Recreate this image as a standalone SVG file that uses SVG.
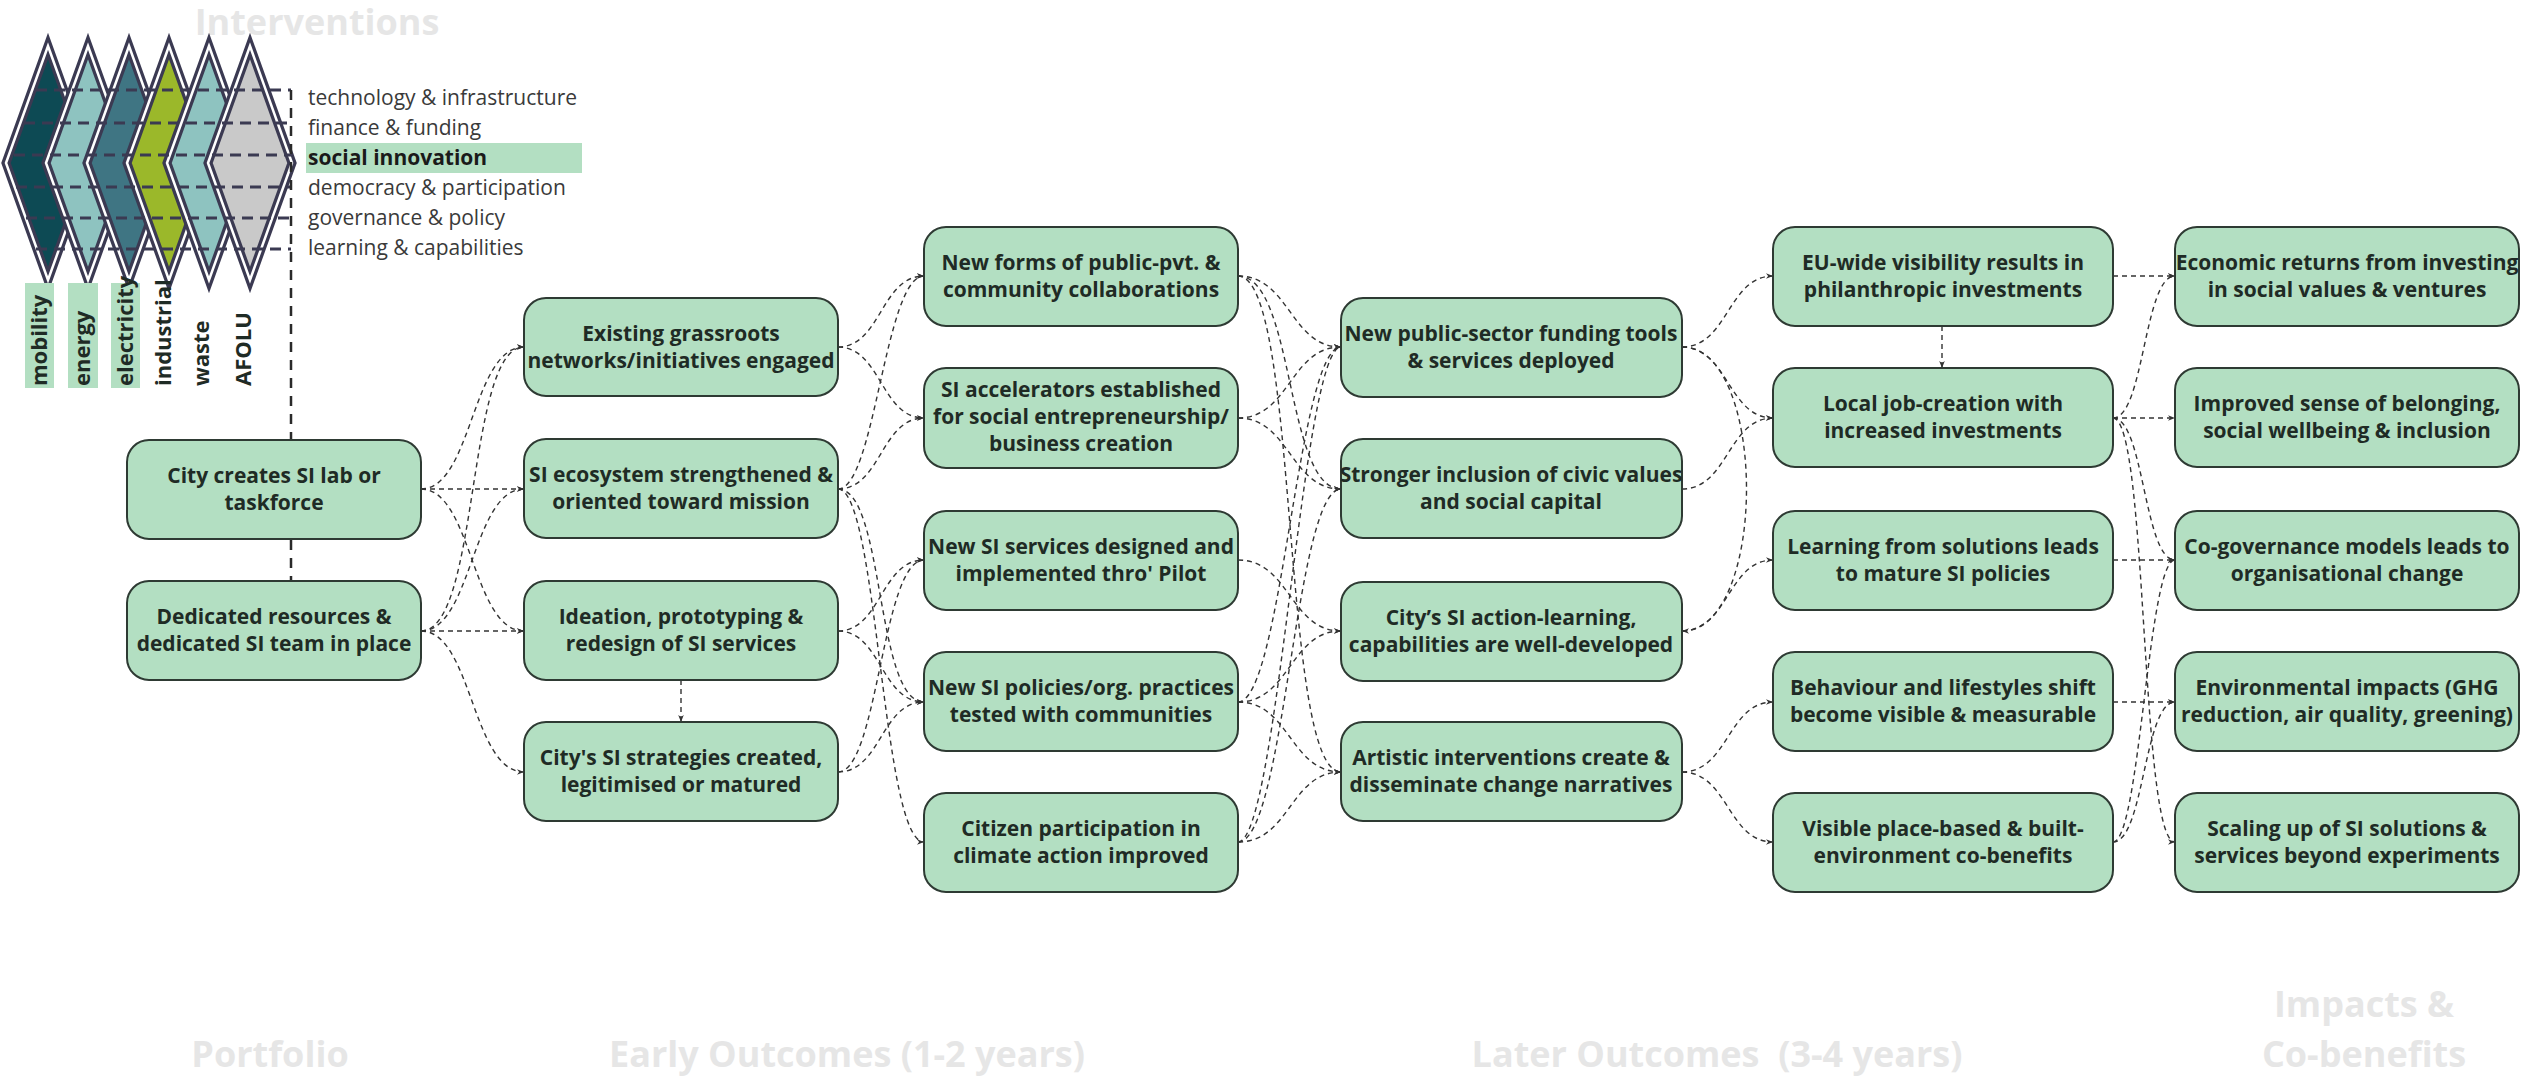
<svg xmlns="http://www.w3.org/2000/svg" width="2522" height="1076" viewBox="0 0 2522 1076">
<style>
.node rect{fill:#b3dfc2;stroke:#2e3a33;stroke-width:2}
.node text{font-family:"Open Sans","Liberation Sans",sans-serif;font-weight:700;font-size:21px;fill:#1f2b25;text-anchor:middle}
.edge{fill:none;stroke:#333;stroke-width:1.4;stroke-dasharray:5 4;marker-end:url(#arr)}
.title{font-family:"Open Sans","Liberation Sans",sans-serif;font-weight:700;font-size:36px;fill:#e6e6e6;text-anchor:middle}
.leg{font-family:"Open Sans","Liberation Sans",sans-serif;font-size:21px;fill:#3a3a3a}
.sect{font-family:"Open Sans","Liberation Sans",sans-serif;font-weight:700;font-size:22px;fill:#1f2b25}
.rh{stroke:#3b3a52;stroke-width:9;stroke-linejoin:miter}
.rhw{fill:none;stroke:#fff;stroke-width:2.5;stroke-linejoin:miter}
.dl{stroke:#3b3a52;stroke-width:3;stroke-dasharray:11 7;fill:none}
.vl{stroke:#2a2a2a;stroke-width:2.5;stroke-dasharray:10 8;fill:none}
</style>
<defs>
<marker id="arr" viewBox="0 0 10 10" refX="10" refY="5" markerWidth="7" markerHeight="7" markerUnits="userSpaceOnUse" orient="auto">
<path d="M0,1 L10,5 L0,9 L3,5 z" fill="#333"/>
</marker>
</defs>
<rect width="2522" height="1076" fill="#fff"/>

<g id="titles">
<text class="title" x="317" y="35">Interventions</text>
<text class="title" x="270" y="1067">Portfolio</text>
<text class="title" x="847" y="1067">Early Outcomes (1-2 years)</text>
<text class="title" x="1717" y="1067" style="white-space:pre">Later Outcomes  (3-4 years)</text>
<text class="title" x="2364" y="1017">Impacts &amp;</text>
<text class="title" x="2364" y="1067">Co-benefits</text>
</g>

<g id="legend">
<polygon class="rh" fill="#0d4a54" points="6,163 48,46 90,163 48,280"/>
<polygon class="rhw" points="6,163 48,46 90,163 48,280"/>
<polygon class="rh" fill="#8ec3c0" points="46,163 88,46 130,163 88,280"/>
<polygon class="rhw" points="46,163 88,46 130,163 88,280"/>
<polygon class="rh" fill="#3f7583" points="87,163 129,46 171,163 129,280"/>
<polygon class="rhw" points="87,163 129,46 171,163 129,280"/>
<polygon class="rh" fill="#9bb82a" points="127,163 169,46 211,163 169,280"/>
<polygon class="rhw" points="127,163 169,46 211,163 169,280"/>
<polygon class="rh" fill="#8ec3c0" points="167,163 209,46 251,163 209,280"/>
<polygon class="rhw" points="167,163 209,46 251,163 209,280"/>
<polygon class="rh" fill="#c9c9c9" points="208,163 250,46 292,163 250,280"/>
<polygon class="rhw" points="208,163 250,46 292,163 250,280"/>
<path class="dl" d="M36,90 H291 M24,123 H291 M14,155 H291 M16,187 H291 M26,218 H291 M36,249 H291"/>
<path class="vl" d="M291,90 V440 M291,540 V581"/>
<rect x="306" y="143" width="276" height="30" fill="#b3dfc2"/>
<text class="leg" x="308" y="105">technology &amp; infrastructure</text>
<text class="leg" x="308" y="135">finance &amp; funding</text>
<text class="leg" x="308" y="165" style="font-weight:700;fill:#1a1a1a">social innovation</text>
<text class="leg" x="308" y="195">democracy &amp; participation</text>
<text class="leg" x="308" y="225">governance &amp; policy</text>
<text class="leg" x="308" y="255">learning &amp; capabilities</text>
<rect x="25" y="283" width="29" height="105" fill="#b3dfc2"/>
<rect x="68" y="283" width="30" height="105" fill="#b3dfc2"/>
<rect x="111" y="283" width="29" height="105" fill="#b3dfc2"/>
<text class="sect" transform="translate(47,386) rotate(-90)">mobility</text>
<text class="sect" transform="translate(90,386) rotate(-90)">energy</text>
<text class="sect" transform="translate(133,386) rotate(-90)">electricity</text>
<text class="sect" transform="translate(171,386) rotate(-90)">industrial</text>
<text class="sect" transform="translate(209,386) rotate(-90)">waste</text>
<text class="sect" transform="translate(251,386) rotate(-90)">AFOLU</text>
</g>

<g id="connectors">
<path class="edge" d="M421,489 C472,489 472,347 524,347"/>
<path class="edge" d="M421,489 H524"/>
<path class="edge" d="M421,489 C472,489 472,631 524,631"/>
<path class="edge" d="M421,631 C480,631 466,347 524,347"/>
<path class="edge" d="M421,631 C472,631 472,489 524,489"/>
<path class="edge" d="M421,631 H524"/>
<path class="edge" d="M421,631 C472,631 472,772 524,772"/>
<path class="edge" d="M681,680 V722"/>

<path class="edge" d="M838,347 C881,347 881,276 924,276"/>
<path class="edge" d="M838,347 C881,347 881,418 924,418"/>
<path class="edge" d="M838,489 C875,489 885,276 924,276"/>
<path class="edge" d="M838,489 C881,489 881,418 924,418"/>
<path class="edge" d="M838,489 C885,489 875,702 924,702"/>
<path class="edge" d="M838,489 C878,489 882,842 924,842"/>
<path class="edge" d="M838,631 C881,631 881,560 924,560"/>
<path class="edge" d="M838,631 C881,631 881,702 924,702"/>
<path class="edge" d="M838,772 C878,772 882,560 924,560"/>
<path class="edge" d="M838,772 C881,772 881,702 924,702"/>

<path class="edge" d="M1238,276 C1290,276 1290,347 1341,347"/>
<path class="edge" d="M1238,276 C1295,276 1285,489 1341,489"/>
<path class="edge" d="M1238,276 C1300,276 1280,772 1341,772"/>
<path class="edge" d="M1238,418 C1290,418 1290,347 1341,347"/>
<path class="edge" d="M1238,418 C1290,418 1290,489 1341,489"/>
<path class="edge" d="M1238,560 C1290,560 1290,631 1341,631"/>
<path class="edge" d="M1238,702 C1282,702 1298,347 1341,347"/>
<path class="edge" d="M1238,702 C1290,702 1290,631 1341,631"/>
<path class="edge" d="M1238,702 C1290,702 1290,772 1341,772"/>
<path class="edge" d="M1238,842 C1285,842 1295,489 1341,489"/>
<path class="edge" d="M1238,842 C1290,842 1290,772 1341,772"/>
<path class="edge" d="M1238,842 C1278,842 1302,347 1341,347"/>

<path class="edge" d="M1682,347 C1728,347 1728,276 1773,276"/>
<path class="edge" d="M1682,347 C1728,347 1728,418 1773,418"/>
<path class="edge" d="M1682,347 C1768,347 1768,631 1682,631"/>
<path class="edge" d="M1682,489 C1728,489 1728,418 1773,418"/>
<path class="edge" d="M1682,631 C1728,631 1728,560 1773,560"/>
<path class="edge" d="M1682,772 C1728,772 1728,702 1773,702"/>
<path class="edge" d="M1682,772 C1728,772 1728,842 1773,842"/>
<path class="edge" d="M1942,326 V368"/>

<path class="edge" d="M2113,276 H2175"/>
<path class="edge" d="M2113,418 H2175"/>
<path class="edge" d="M2113,418 C2144,418 2144,276 2175,276"/>
<path class="edge" d="M2113,418 C2144,418 2144,560 2175,560"/>
<path class="edge" d="M2113,560 H2175"/>
<path class="edge" d="M2113,702 H2175"/>
<path class="edge" d="M2113,842 C2144,842 2144,702 2175,702"/>
<path class="edge" d="M2113,842 C2140,842 2148,560 2175,560"/>
<path class="edge" d="M2113,418 C2148,418 2140,842 2175,842"/>
</g>

<g id="n_city" class="node"><rect x="127" y="440" width="294" height="99" rx="22"/><text><tspan x="274" y="483">City creates SI lab or</tspan><tspan x="274" y="510">taskforce</tspan></text></g>
<g id="n_dedicated" class="node"><rect x="127" y="581" width="294" height="99" rx="22"/><text><tspan x="274" y="624">Dedicated resources &amp;</tspan><tspan x="274" y="651">dedicated SI team in place</tspan></text></g>

<g id="n_grassroots" class="node"><rect x="524" y="298" width="314" height="98" rx="22"/><text><tspan x="681" y="341">Existing grassroots</tspan><tspan x="681" y="368">networks/initiatives engaged</tspan></text></g>
<g id="n_ecosystem" class="node"><rect x="524" y="439" width="314" height="99" rx="22"/><text><tspan x="681" y="482">SI ecosystem strengthened &amp;</tspan><tspan x="681" y="509">oriented toward mission</tspan></text></g>
<g id="n_ideation" class="node"><rect x="524" y="581" width="314" height="99" rx="22"/><text><tspan x="681" y="624">Ideation, prototyping &amp;</tspan><tspan x="681" y="651">redesign of SI services</tspan></text></g>
<g id="n_strategies" class="node"><rect x="524" y="722" width="314" height="99" rx="22"/><text><tspan x="681" y="765">City's SI strategies created,</tspan><tspan x="681" y="792">legitimised or matured</tspan></text></g>

<g id="n_collab" class="node"><rect x="924" y="227" width="314" height="99" rx="22"/><text><tspan x="1081" y="270">New forms of public-pvt. &amp;</tspan><tspan x="1081" y="297">community collaborations</tspan></text></g>
<g id="n_accel" class="node"><rect x="924" y="368" width="314" height="100" rx="22"/><text><tspan x="1081" y="397">SI accelerators established</tspan><tspan x="1081" y="424">for social entrepreneurship/</tspan><tspan x="1081" y="451">business creation</tspan></text></g>
<g id="n_services" class="node"><rect x="924" y="511" width="314" height="99" rx="22"/><text><tspan x="1081" y="554">New SI services designed and</tspan><tspan x="1081" y="581">implemented thro' Pilot</tspan></text></g>
<g id="n_policies" class="node"><rect x="924" y="652" width="314" height="99" rx="22"/><text><tspan x="1081" y="695">New SI policies/org. practices</tspan><tspan x="1081" y="722">tested with communities</tspan></text></g>
<g id="n_citizen" class="node"><rect x="924" y="793" width="314" height="99" rx="22"/><text><tspan x="1081" y="836">Citizen participation in</tspan><tspan x="1081" y="863">climate action improved</tspan></text></g>

<g id="n_funding" class="node"><rect x="1341" y="298" width="341" height="99" rx="22"/><text><tspan x="1511" y="341">New public-sector funding tools</tspan><tspan x="1511" y="368">&amp; services deployed</tspan></text></g>
<g id="n_civic" class="node"><rect x="1341" y="439" width="341" height="99" rx="22"/><text><tspan x="1511" y="482">Stronger inclusion of civic values</tspan><tspan x="1511" y="509">and social capital</tspan></text></g>
<g id="n_actionlearning" class="node"><rect x="1341" y="582" width="341" height="99" rx="22"/><text><tspan x="1511" y="625">City’s SI action-learning,</tspan><tspan x="1511" y="652">capabilities are well-developed</tspan></text></g>
<g id="n_artistic" class="node"><rect x="1341" y="722" width="341" height="99" rx="22"/><text><tspan x="1511" y="765">Artistic interventions create &amp;</tspan><tspan x="1511" y="792">disseminate change narratives</tspan></text></g>

<g id="n_eu" class="node"><rect x="1773" y="227" width="340" height="99" rx="22"/><text><tspan x="1943" y="270">EU-wide visibility results in</tspan><tspan x="1943" y="297">philanthropic investments</tspan></text></g>
<g id="n_jobs" class="node"><rect x="1773" y="368" width="340" height="99" rx="22"/><text><tspan x="1943" y="411">Local job-creation with</tspan><tspan x="1943" y="438">increased investments</tspan></text></g>
<g id="n_learnsol" class="node"><rect x="1773" y="511" width="340" height="99" rx="22"/><text><tspan x="1943" y="554">Learning from solutions leads</tspan><tspan x="1943" y="581">to mature SI policies</tspan></text></g>
<g id="n_behaviour" class="node"><rect x="1773" y="652" width="340" height="99" rx="22"/><text><tspan x="1943" y="695">Behaviour and lifestyles shift</tspan><tspan x="1943" y="722">become visible &amp; measurable</tspan></text></g>
<g id="n_visible" class="node"><rect x="1773" y="793" width="340" height="99" rx="22"/><text><tspan x="1943" y="836">Visible place-based &amp; built-</tspan><tspan x="1943" y="863">environment co-benefits</tspan></text></g>

<g id="n_economic" class="node"><rect x="2175" y="227" width="344" height="99" rx="22"/><text><tspan x="2347" y="270">Economic returns from investing</tspan><tspan x="2347" y="297">in social values &amp; ventures</tspan></text></g>
<g id="n_belonging" class="node"><rect x="2175" y="368" width="344" height="99" rx="22"/><text><tspan x="2347" y="411">Improved sense of belonging,</tspan><tspan x="2347" y="438">social wellbeing &amp; inclusion</tspan></text></g>
<g id="n_cogov" class="node"><rect x="2175" y="511" width="344" height="99" rx="22"/><text><tspan x="2347" y="554">Co-governance models leads to</tspan><tspan x="2347" y="581">organisational change</tspan></text></g>
<g id="n_env" class="node"><rect x="2175" y="652" width="344" height="99" rx="22"/><text><tspan x="2347" y="695">Environmental impacts (GHG</tspan><tspan x="2347" y="722">reduction, air quality, greening)</tspan></text></g>
<g id="n_scaling" class="node"><rect x="2175" y="793" width="344" height="99" rx="22"/><text><tspan x="2347" y="836">Scaling up of SI solutions &amp;</tspan><tspan x="2347" y="863">services beyond experiments</tspan></text></g>
</svg>
